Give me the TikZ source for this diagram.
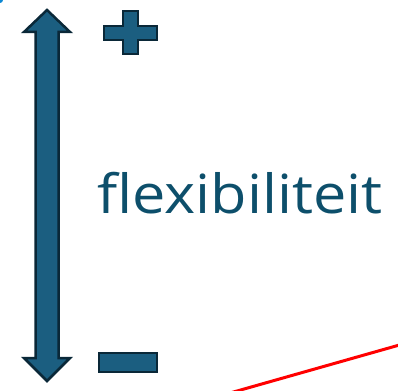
\documentclass[tikz,border=0pt]{standalone}
\usepackage{fontspec}
\setmainfont{Open Sans}
\newfontfamily\flexfont[FakeStretch=1.1]{Open Sans}
\definecolor{flexfill}{HTML}{1B5E80}
\definecolor{flexedge}{HTML}{0A2838}
\definecolor{flextext}{HTML}{0D4F6B}
\begin{document}
\begin{tikzpicture}[x=1pt, y=-1pt,
    sign/.style={fill=flexfill, draw=flexedge, line width=2.5pt, line join=miter}]
    \useasboundingbox (0,0) rectangle (398,390);
    \clip (0,0) rectangle (398,390);
    \fill[cyan!70!blue] (0,0) circle (3);
    % double arrow
    \draw[sign] (47,10) -- (70,32) -- (58.5,32) -- (58.5,358) -- (70,358) -- (47,381)
        -- (24,358) -- (35.5,358) -- (35.5,32) -- (24,32) -- cycle;
    % plus and minus
    \draw[sign] (123,11) -- (138,11) -- (138,26) -- (157,26) -- (157,40) -- (138,40)
        -- (138,54) -- (123,54) -- (123,40) -- (104,40) -- (104,26) -- (123,26) -- cycle;
    \draw[sign] (99,353) rectangle (157,372);
    \node[text=flextext, font=\flexfont\fontsize{54}{60}\selectfont, anchor=base west, inner sep=0]
        (label) at (97,213) {flexibiliteit};
    \draw[red, line width=3pt] (230,393) -- (410,342);
\end{tikzpicture}
\end{document}
